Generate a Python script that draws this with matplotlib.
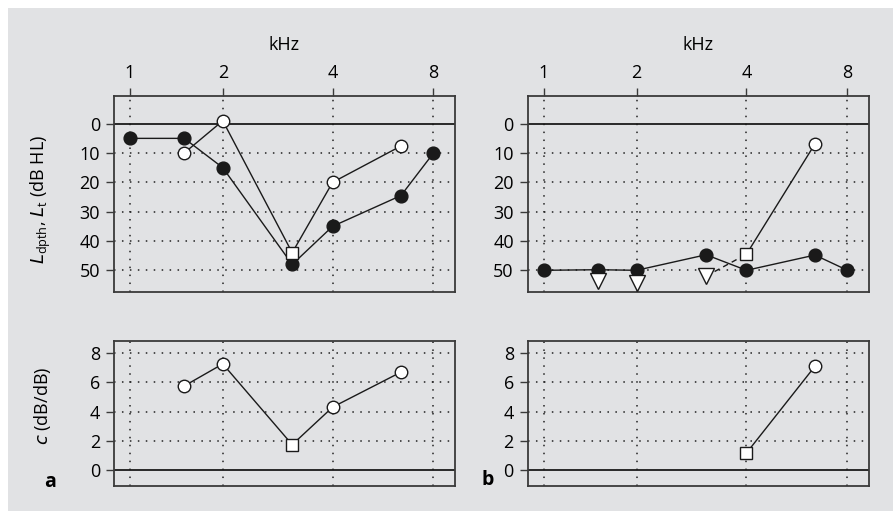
import numpy as np
import matplotlib
matplotlib.use("Agg")
import matplotlib.pyplot as plt
from matplotlib.patches import Rectangle

plt.rcParams['font.family'] = ['Open Sans', 'DejaVu Sans']
plt.rcParams['mathtext.fontset'] = 'custom'
plt.rcParams['mathtext.rm'] = 'Open Sans'
plt.rcParams['mathtext.it'] = 'DejaVu Sans:italic'

# ---------------- data ----------------
freq_ticks = [1, 2, 4, 8]
freq_tick_labels = ["1", "2", "4", "8"]

# panel a
a_dp_freq = [1, 1.5, 2, 3.1, 4, 6.4, 8]
a_dp_L = [5, 5, 15, 48, 35, 24.5, 10]          # filled circles
a_thr_freq = [1.5, 2, 3.1, 4, 6.4]
a_thr_L = [10, -1, 44, 20, 7.6]                # open circles / square
a_thr_marker = ['o', 'o', 's', 'o', 'o']
a_c = [5.75, 7.26, 1.73, 4.3, 6.7]

# panel b
b_dp_freq = [1, 1.5, 2, 3.1, 4, 6.4, 8]
b_dp_L = [50, 49.8, 50, 44.7, 50, 44.8, 50]
b_tri_freq = [1.5, 2, 3.1]
b_tri_L = [53.7, 54.3, 52]
b_thr_freq = [4, 6.4]
b_thr_L = [44.5, 6.9]
b_thr_marker = ['s', 'o']
b_c = [1.16, 7.1]

# ---------------- x scale (non-uniform octave axis) ----------------
_kl = np.array([-2.0, 0.0, 1.0, 2.0, 3.0, 5.0])
_ku = np.array([-2.0, 0.0, 0.918, 2.003, 3.0, 5.0])

def fwd(f):
    f = np.asarray(f, dtype=float)
    return np.interp(np.log2(np.clip(f, 1e-6, None)), _kl, _ku)

def inv(u):
    u = np.asarray(u, dtype=float)
    return 2.0 ** np.interp(u, _ku, _kl)

W, H = 893, 511
fig = plt.figure(figsize=(W / 100, H / 100), dpi=100)
fig.patch.set_facecolor('white')
bg = '#e1e2e4'
fig.patches.append(Rectangle((8 / W, 0), 1 - 8 / W, 1 - 8 / H, transform=fig.transFigure,
                             facecolor=bg, edgecolor='none', zorder=-10))

def fx(px):
    return px / W

def fy(py):
    return 1 - py / H

top_y0, top_y1 = 96, 292
bot_y0, bot_y1 = 340.7, 486
left_x0, left_x1 = 114, 455
right_x0, right_x1 = 527.7, 869
FS = 13

def make_ax(x0, x1, y0, y1):
    ax = fig.add_axes([fx(x0), fy(y1), fx(x1) - fx(x0), fy(y0) - fy(y1)])
    ax.set_facecolor(bg)
    ax.set_xscale('function', functions=(fwd, inv))
    ax.set_xlim(0.897, 9.27)
    for s in ax.spines.values():
        s.set_color('#3a3a3a')
        s.set_linewidth(1.3)
    return ax

grid_kw = dict(color='#222222', linestyle=(0, (1, 4.2)), linewidth=1.1)
line_kw = dict(color='#1a1a1a', linewidth=1.0, zorder=3)
fill_kw = dict(color='#1a1a1a', markersize=9.2, zorder=5, linestyle='none', marker='o')
open_kw = dict(markerfacecolor='white', markeredgecolor='#1a1a1a', markeredgewidth=1.0,
               zorder=5, linestyle='none')
MS_O, MS_S = 9.0, 9.3

def style_top(ax):
    ax.set_ylim(57.4, -9.45)
    ax.set_yticks([0, 10, 20, 30, 40, 50])
    ax.set_xticks(freq_ticks)
    ax.set_xticklabels(freq_tick_labels)
    ax.xaxis.set_minor_locator(matplotlib.ticker.NullLocator())
    ax.xaxis.tick_top()
    ax.tick_params(axis='x', which='major', direction='out', length=6, width=1.0,
                   color='#3a3a3a', labelsize=FS, pad=4)
    ax.tick_params(axis='y', direction='out', length=6, width=1.0, color='#3a3a3a',
                   labelsize=FS, pad=4)
    for v in [10, 20, 30, 40, 50]:
        ax.axhline(v, zorder=1, **grid_kw)
    for f in freq_ticks:
        ax.axvline(f, zorder=1, **grid_kw)
    ax.axhline(0, color='#1a1a1a', linewidth=1.3, zorder=2)
    ax.set_xlabel('kHz', fontsize=FS)
    ax.xaxis.set_label_position('top')
    ax.xaxis.label.set_va('center')
    ax.xaxis.set_label_coords(0.5, 1 + (top_y0 - 45) / (top_y1 - top_y0))

def style_bot(ax):
    ax.set_ylim(-1.1, 8.85)
    ax.set_yticks([0, 2, 4, 6, 8])
    ax.set_xticks(freq_ticks)
    ax.xaxis.set_minor_locator(matplotlib.ticker.NullLocator())
    ax.tick_params(axis='x', length=0, labelbottom=False)
    ax.tick_params(axis='y', direction='out', length=6, width=1.0, color='#3a3a3a',
                   labelsize=FS, pad=4)
    for v in [2, 4, 6, 8]:
        ax.axhline(v, zorder=1, **grid_kw)
    for f in freq_ticks:
        ax.axvline(f, zorder=1, **grid_kw)
    ax.axhline(0, color='#1a1a1a', linewidth=1.3, zorder=2)

def open_markers(ax, fs, vs, ms):
    for f, v, m in zip(fs, vs, ms):
        ax.plot([f], [v], marker=m, markersize=(MS_S if m == 's' else MS_O), **open_kw)

# ---------------- panel a top ----------------
ax = make_ax(left_x0, left_x1, top_y0, top_y1)
style_top(ax)
ax.plot(a_dp_freq, a_dp_L, **line_kw)
ax.plot(a_dp_freq, a_dp_L, **fill_kw)
ax.plot(a_thr_freq, a_thr_L, **line_kw)
open_markers(ax, a_thr_freq, a_thr_L, a_thr_marker)
ax.set_ylabel(r'$L_{\mathrm{dpth}}$, $L_{\mathrm{t}}$ (dB HL)', fontsize=FS)
ax.yaxis.set_label_coords((53 - left_x0) / (left_x1 - left_x0), 0.47)

# ---------------- panel b top ----------------
ax = make_ax(right_x0, right_x1, top_y0, top_y1)
style_top(ax)
ax.plot(b_dp_freq, b_dp_L, **line_kw)
ax.plot(b_dp_freq, b_dp_L, **fill_kw)
ax.plot([b_tri_freq[-1], b_thr_freq[0]], [b_tri_L[-1], b_thr_L[0]], color='#1a1a1a',
        linewidth=1.0, linestyle=(0, (4, 3)), zorder=3)
ax.plot(b_tri_freq, b_tri_L, marker='v', markersize=11, **open_kw)
ax.plot(b_thr_freq, b_thr_L, **line_kw)
open_markers(ax, b_thr_freq, b_thr_L, b_thr_marker)

# ---------------- panel a bottom ----------------
ax = make_ax(left_x0, left_x1, bot_y0, bot_y1)
style_bot(ax)
ax.plot(a_thr_freq, a_c, **line_kw)
open_markers(ax, a_thr_freq, a_c, a_thr_marker)
ax.set_ylabel(r'$c$ (dB/dB)', fontsize=FS)
ax.yaxis.set_label_coords((53 - left_x0) / (left_x1 - left_x0), 0.55)

# ---------------- panel b bottom ----------------
ax = make_ax(right_x0, right_x1, bot_y0, bot_y1)
style_bot(ax)
ax.plot(b_thr_freq, b_c, **line_kw)
open_markers(ax, b_thr_freq, b_c, b_thr_marker)

fig.text(fx(50), fy(482), 'a', fontsize=14, fontweight='bold', ha='center', va='center')
fig.text(fx(488), fy(480), 'b', fontsize=14, fontweight='bold', ha='center', va='center')

fig.savefig('out.png', dpi=100, facecolor='white')
